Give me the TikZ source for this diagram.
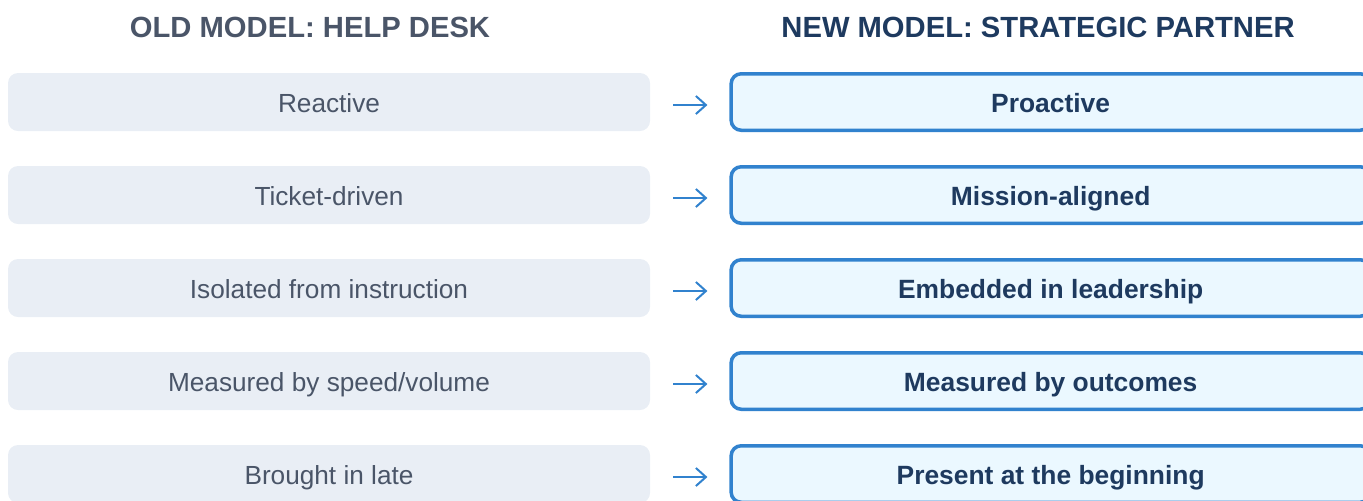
\documentclass[tikz,border=0pt]{standalone}
\usepackage{fontspec}
\setmainfont{Liberation Sans}
\usepackage{xcolor}
\usepackage{tikz}
\usetikzlibrary{positioning,arrows.meta}

\definecolor{oldfill}{HTML}{E9EEF5}
\definecolor{oldtext}{HTML}{4A5568}
\definecolor{newfill}{HTML}{EBF8FF}
\definecolor{newline}{HTML}{3182CE}
\definecolor{newtext}{HTML}{1E3A5F}

\tikzset{
    oldbox/.style={fill=oldfill, rounded corners=5pt, minimum width=321pt, minimum height=29pt,
        text=oldtext, font=\fontsize{13.1}{15}\selectfont, text height=10.3pt, text depth=0pt},
    newbox/.style={draw=newline, line width=1.75pt, fill=newfill, rounded corners=5pt,
        minimum width=319.5pt, minimum height=28.25pt,
        text=newtext, font=\bfseries\fontsize{13.2}{15}\selectfont, text height=10.3pt, text depth=0pt},
    header/.style={font=\bfseries\fontsize{14.6}{17}\selectfont, text height=10.4pt, text depth=0pt},
    shiftarrow/.style={newline, line width=1pt, -{Straight Barb[length=5pt,width=9pt]}}
}

\begin{document}
\begin{tikzpicture}[x=0.5pt, y=-0.5pt]
    \useasboundingbox (0,0) rectangle (1363,500);

    % Column headers
    \node[header, text=oldtext] (oldhead) at (310,27) {OLD MODEL: HELP DESK};
    \node[header, text=newtext] (newhead) at (1038,27) {NEW MODEL: STRATEGIC PARTNER};

    % Rows: old -> new
    \foreach \i/\old/\new in {1/Reactive/Proactive,
                              2/Ticket-driven/Mission-aligned,
                              3/Isolated from instruction/Embedded in leadership,
                              4/{Measured by speed/volume}/Measured by outcomes,
                              5/Brought in late/Present at the beginning} {
        \node[oldbox] (old\i) at (329,{102+93*(\i-1)}) {\old};
        \node[newbox, right=39.5pt of old\i] (new\i) {\new};
        \draw[shiftarrow] ([xshift=11.5pt,yshift=-1.5pt]old\i.east) -- ([xshift=-11pt,yshift=-1.5pt]new\i.west);
    }
\end{tikzpicture}
\end{document}
